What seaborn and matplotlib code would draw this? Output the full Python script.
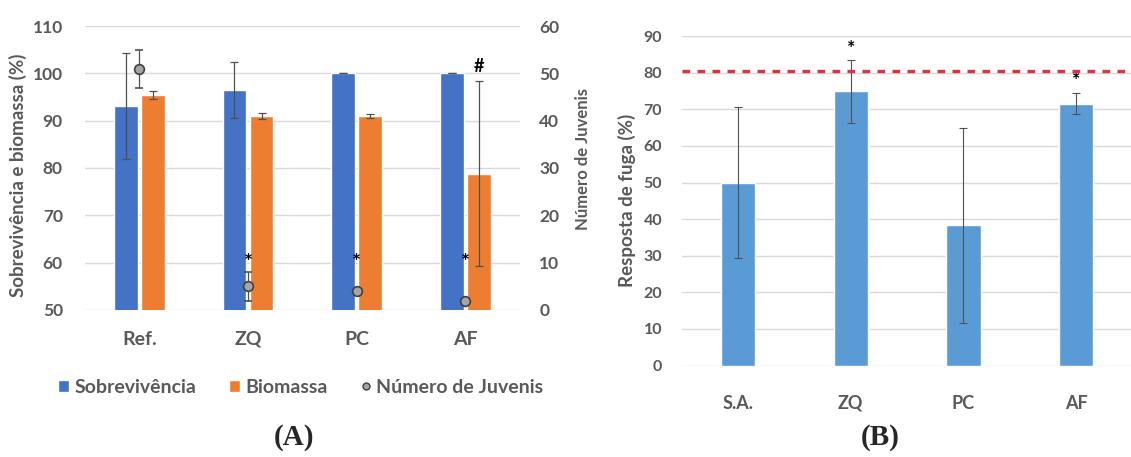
import numpy as np
import pandas as pd
import seaborn as sns
import matplotlib.pyplot as plt
from matplotlib.patches import Patch
from matplotlib.lines import Line2D

# Painel A
grupos_a = ["Ref.", "ZQ", "PC", "AF"]
sobrevivencia = [93.2, 96.5, 100.0, 100.0]
sobrevivencia_err = [11.2, 6.0, 0.0, 0.0]
biomassa = [95.4, 91.0, 91.0, 78.8]
biomassa_err = [0.8, 0.7, 0.5, 19.6]
juvenis = [51.0, 5.0, 4.0, 2.0]
juvenis_err = [4.0, 3.0, 0.0, 0.0]

# Painel B
grupos_b = ["S.A.", "ZQ", "PC", "AF"]
fuga = [50.0, 75.0, 38.3, 71.5]
fuga_err = [20.7, 8.6, 26.7, 2.9]
limite_fuga = 80.5

AZUL = "#4472C4"
LARANJA = "#ED7D31"
AZUL_B = "#5B9BD5"
CINZA_TXT = "#595959"
CINZA_GRID = "#D9D9D9"
CINZA_ERR = "#505050"

sns.set_style("white")
plt.rcParams["font.family"] = ["Lato", "DejaVu Sans"]

fig = plt.figure(figsize=(11.31, 4.57), dpi=100)
ax = fig.add_axes([0.0752, 0.3217, 0.3843, 0.6214])
axb = fig.add_axes([0.6027, 0.200, 0.3986, 0.721])

# ---------- Painel A ----------
df_a = pd.DataFrame({
    "Grupo": grupos_a * 2,
    "Valor": sobrevivencia + biomassa,
    "Serie": ["Sobrevivência"] * 4 + ["Biomassa"] * 4,
})
sns.barplot(data=df_a, x="Grupo", y="Valor", hue="Serie",
            palette=[AZUL, LARANJA], saturation=1, width=0.5, gap=0.13,
            legend=False, ax=ax, zorder=2)

for cont, err in zip(ax.containers, [sobrevivencia_err, biomassa_err]):
    xs = [b.get_x() + b.get_width() / 2 for b in cont]
    ys = [b.get_height() for b in cont]
    ax.errorbar(xs, ys, yerr=err, fmt="none", ecolor=CINZA_ERR,
                elinewidth=0.9, capsize=3, capthick=0.9, zorder=3)

ax.set_ylim(50, 110)
ax.set_xlim(-0.5, 3.5)
ax.set_yticks(range(50, 111, 10))
ax.grid(axis="y", color=CINZA_GRID, linewidth=1)
ax.set_axisbelow(True)
for s in ax.spines.values():
    s.set_visible(False)
ax.tick_params(axis="y", length=0, labelsize=12.5, labelcolor=CINZA_TXT, pad=16)
ax.tick_params(axis="x", length=0, labelsize=14, labelcolor=CINZA_TXT, pad=15)
for t in ax.get_xticklabels() + ax.get_yticklabels():
    t.set_fontweight("bold")
ax.set_xlabel("")
ax.set_ylabel("Sobrevivência e biomassa (%)", fontsize=13.5, fontweight="bold",
              color=CINZA_TXT)
ax.yaxis.set_label_coords(-0.134, 0.475)

ax2 = ax.twinx()
ax2.errorbar(np.arange(len(grupos_a)), juvenis, yerr=juvenis_err, fmt="o",
             color="#A5A5A5", mec="#404040", mew=1.2, ms=7,
             ecolor=CINZA_ERR, elinewidth=0.9, capsize=3, capthick=0.9, zorder=4)
ax2.set_ylim(0, 60)
ax2.set_yticks(range(0, 61, 10))
for s in ax2.spines.values():
    s.set_visible(False)
ax2.tick_params(length=0, labelsize=12.5, labelcolor=CINZA_TXT, pad=14)
for t in ax2.get_yticklabels():
    t.set_fontweight("bold")
ax2.set_ylabel("Número de Juvenis", fontsize=12, fontweight="bold",
               color=CINZA_TXT)
ax2.yaxis.set_label_coords(1.127, 0.533)

for i in range(1, 4):
    ax2.text(i, 10, "*", ha="center", va="center", fontsize=15,
             fontweight="bold", color="black")
af_bar = ax.containers[1][3]
ax.text(af_bar.get_x() + af_bar.get_width() / 2, 101.5, "#", ha="center",
        va="center", fontsize=13, fontweight="bold", color="black")

handles = [
    Patch(facecolor=AZUL, label="Sobrevivência"),
    Patch(facecolor=LARANJA, label="Biomassa"),
    Line2D([], [], marker="o", ls="none", color="#A5A5A5", mec="#404040",
           ms=5, label="Número de Juvenis"),
]
leg = fig.legend(handles=handles, loc="center", bbox_to_anchor=(0.266, 0.153),
                 ncol=3, frameon=False, handlelength=0.57, handleheight=0.57,
                 handletextpad=0.25, columnspacing=1.7,
                 prop={"size": 14, "weight": "bold"})
for t in leg.get_texts():
    t.set_color(CINZA_TXT)

# ---------- Painel B ----------
df_b = pd.DataFrame({"Grupo": grupos_b, "Fuga": fuga})
sns.barplot(data=df_b, x="Grupo", y="Fuga", color=AZUL_B, saturation=1,
            width=0.305, ax=axb, zorder=2)
xs_b = [b.get_x() + b.get_width() / 2 for b in axb.containers[0]]
axb.errorbar(xs_b, fuga, yerr=fuga_err, fmt="none", ecolor=CINZA_ERR,
             elinewidth=0.8, capsize=3, capthick=0.8, zorder=3)
axb.axhline(limite_fuga, color="#E0323A", ls=(0, (2.3, 2.2)), lw=2.4, zorder=4)
axb.text(1, 86.5, "*", ha="center", va="center", fontsize=14,
         fontweight="bold", color="black")
axb.text(3, 77.8, "*", ha="center", va="center", fontsize=14,
         fontweight="bold", color="black")

axb.set_ylim(0, 90)
axb.set_xlim(-0.5, 3.5)
axb.set_yticks(range(0, 91, 10))
axb.grid(axis="y", color=CINZA_GRID, linewidth=1)
axb.set_axisbelow(True)
for s in axb.spines.values():
    s.set_visible(False)
axb.tick_params(axis="y", length=0, labelsize=11.5, labelcolor=CINZA_TXT, pad=14)
axb.tick_params(axis="x", length=0, labelsize=13, labelcolor=CINZA_TXT, pad=21)
for t in axb.get_xticklabels() + axb.get_yticklabels():
    t.set_fontweight("bold")
axb.set_xlabel("")
axb.set_ylabel("Resposta de fuga (%)", fontsize=13.5, fontweight="bold",
               color=CINZA_TXT)
axb.yaxis.set_label_coords(-0.101, 0.5)

fig.text(0.260, 0.042, "(A)", ha="center", va="center", fontsize=21,
         fontweight="bold", family="Liberation Serif")
fig.text(0.778, 0.042, "(B)", ha="center", va="center", fontsize=21,
         fontweight="bold", family="Liberation Serif")

fig.savefig("out.png", dpi=100)
